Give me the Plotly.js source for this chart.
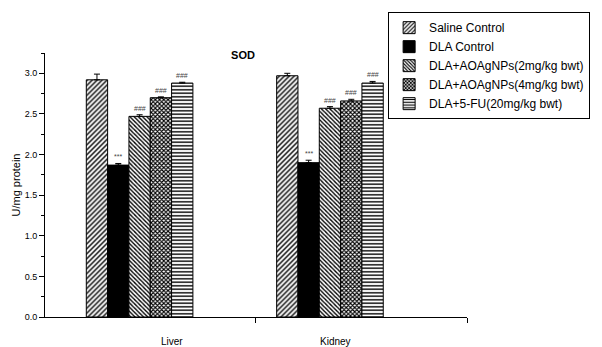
<!DOCTYPE html>
<html>
<head>
<meta charset="utf-8">
<script src="https://cdn.plot.ly/plotly-3.0.1.min.js"></script>
<style>html,body{margin:0;padding:0;background:#fff;}#chart{width:602px;height:347px;}</style>
</head>
<body>
<div id="chart"></div>
<script>
// ---- data ----
const categories = ["Liver", "Kidney"];
const seriesNames = ["Saline Control", "DLA Control", "DLA+AOAgNPs(2mg/kg bwt)", "DLA+AOAgNPs(4mg/kg bwt)", "DLA+5-FU(20mg/kg bwt)"];
const salineControl = [2.92, 2.97];
const dlaControl = [1.87, 1.90];
const aoag2 = [2.47, 2.57];
const aoag4 = [2.70, 2.66];
const fu20 = [2.88, 2.88];
const salineErr = [0.07, 0.03];
const dlaErr = [0.02, 0.03];
const aoag2Err = [0.02, 0.02];
const aoag4Err = [0.01, 0.02];
const fu20Err = [0.01, 0.02];
const sigLabels = ["", "***", "###", "###", "###"];
const yTickVals = [0, 0.5, 1.0, 1.5, 2.0, 2.5, 3.0];

// ---- styles ----
const values = [salineControl, dlaControl, aoag2, aoag4, fu20];
const errs = [salineErr, dlaErr, aoag2Err, aoag4Err, fu20Err];
const patterns = [
  {shape: "/", size: 3.5, solidity: 0.4, fgcolor: "#000", bgcolor: "#fff", fillmode: "replace"},
  null,
  {shape: "\\", size: 3, solidity: 0.45, fgcolor: "#000", bgcolor: "#fff", fillmode: "replace"},
  {shape: "x", size: 3, solidity: 0.6, fgcolor: "#000", bgcolor: "#fff", fillmode: "replace"},
  {shape: "-", size: 3.5, solidity: 0.4, fgcolor: "#000", bgcolor: "#fff", fillmode: "replace"}
];
const xs = categories.map((c, i) => i);
const bargap = 0.44;
const nSeries = seriesNames.length;
const barW = (1 - bargap) / nSeries;

const FONT = "Liberation Sans, Arial, Helvetica, sans-serif";

const traces = seriesNames.map((name, j) => {
  const marker = {line: {color: "#000", width: 1}};
  if (patterns[j]) { marker.color = "#fff"; marker.pattern = patterns[j]; }
  else { marker.color = "#000"; }
  return {
    type: "bar", name: name, x: xs, y: values[j],
    marker: marker,
    error_y: {type: "data", array: errs[j], arrayminus: errs[j].map(() => 0), symmetric: false,
              color: "#000", thickness: 1, width: 3},
    hoverinfo: "skip"
  };
});

const annotations = [];
seriesNames.forEach((name, j) => {
  if (!sigLabels[j]) return;
  xs.forEach((xc, i) => {
    annotations.push({
      x: xc - (1 - bargap) / 2 + barW * (j + 0.5), xref: "x",
      y: values[j][i] + errs[j][i], yref: "y",
      text: sigLabels[j], showarrow: false, yanchor: "bottom", yshift: 1,
      font: {family: FONT, size: 7, color: "#444"}
    });
  });
});
const labelPos = [0.17, 1.03];
categories.forEach((c, i) => {
  annotations.push({
    x: labelPos[i], xref: "x", y: -0.094, yref: "paper", text: c, showarrow: false,
    yanchor: "middle", font: {family: FONT, size: 10, color: "#000"}
  });
});

const layout = {
  width: 602, height: 347,
  margin: {l: 45, r: 129, t: 52, b: 30, pad: 0},
  paper_bgcolor: "#fff", plot_bgcolor: "#fff",
  font: {family: FONT, color: "#000"},
  barmode: "group", bargap: bargap, bargroupgap: 0,
  title: {text: "<b>SOD</b>", font: {family: FONT, size: 11, color: "#000"},
          x: 243 / 602, xanchor: "center", y: 1 - 55 / 347, yanchor: "middle"},
  xaxis: {range: [-0.497, 1.72], showgrid: false, zeroline: false, showline: true,
          linecolor: "#000", linewidth: 1, tickmode: "array", tickvals: [0.61, 1.72],
          ticktext: ["", ""], ticks: "outside", ticklen: 5, tickcolor: "#000", fixedrange: true},
  yaxis: {range: [0, 3.25], showgrid: false, zeroline: false, showline: true,
          linecolor: "#000", linewidth: 1, tickmode: "array", tickvals: yTickVals,
          ticktext: yTickVals.map(v => v.toFixed(1)),
          ticks: "outside", ticklen: 5, tickcolor: "#000",
          minor: {ticks: "outside", ticklen: 3, tickcolor: "#000", dtick: 0.25, showgrid: false},
          tickfont: {family: FONT, size: 9, color: "#000"},
          title: {text: "U/mg protein", font: {family: FONT, size: 11, color: "#000"}, standoff: 1},
          fixedrange: true},
  showlegend: true,
  legend: {x: (393 - 45) / 428, xanchor: "left", y: (317 - 11) / 265, yanchor: "top",
           bgcolor: "#fff", bordercolor: "#000", borderwidth: 1,
           font: {family: FONT, size: 12, color: "#000"}, tracegroupgap: 0},
  annotations: annotations
};

Plotly.newPlot("chart", traces, layout, {displayModeBar: false, staticPlot: true});
</script>
</body>
</html>
